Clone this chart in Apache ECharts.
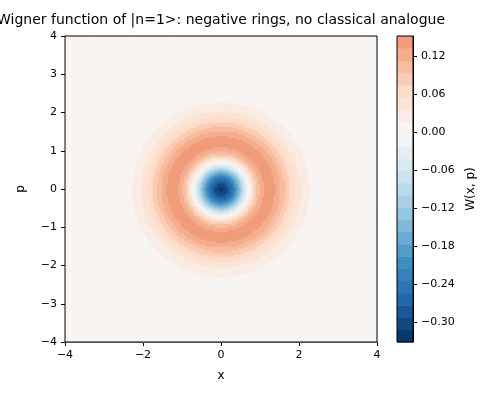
<!DOCTYPE html>
<html><head><meta charset="utf-8">
<script src="https://cdn.jsdelivr.net/npm/echarts@6/dist/echarts.min.js"></script>
<style>html,body{margin:0;padding:0;background:#fff}#c{width:500px;height:400px}</style>
</head><body><div id="c"></div>
<script>
// Radial profile W(r), r step 0.125
const radii = [0,0.125,0.25,0.375,0.5,0.625,0.75,0.875,1.0,1.125,1.25,1.375,1.5,1.625,1.75,1.875,2.0,2.125,2.25,2.375,2.5,2.625,2.75,2.875,3.0,3.125,3.25,3.5];
const profile = [-0.318,-0.304,-0.262,-0.199,-0.124,-0.047,0.023,0.079,0.117,0.138,0.142,0.134,0.117,0.097,0.076,0.057,0.041,0.028,0.018,0.012,0.007,0.004,0.002,0.001,0.0007,0.0004,0.0002,0.0];
const axisTicks = [-4,-2,0,2,4];
const cbarTicks = [-0.30,-0.24,-0.18,-0.12,-0.06,0.00,0.06,0.12];
const levelMin = -0.332, levelMax = 0.152, nBands = 25;
const cmap = ['#053061','#2166ac','#4393c3','#92c5de','#d1e5f0','#f7f7f7','#fddbc7','#f4a582','#d6604d','#b2182b','#67001f'];
function hex(c){return [1,3,5].map(i=>parseInt(c.substr(i,2),16));}
function colorAt(v){
  let t = 0.5 + 0.5*v/0.332; t=Math.max(0,Math.min(1,t));
  const s=t*10, i=Math.min(9,Math.floor(s)), f=s-i;
  const a=hex(cmap[i]), b=hex(cmap[i+1]);
  return 'rgb('+a.map((x,k)=>Math.round(x+(b[k]-x)*f)).join(',')+')';
}
const step=(levelMax-levelMin)/nBands;
const levels=[]; for(let i=0;i<=nBands;i++) levels.push(levelMin+i*step);
function bandColor(v){
  let i=Math.floor((v-levelMin)/step); i=Math.max(0,Math.min(nBands-1,i));
  return colorAt(levels[i]+step/2);
}
// colour lookup between the sampled radii (used only to shade cells)
function W(r){
  if(r>=radii[radii.length-1]) return 0;
  let i=0; while(radii[i+1]<r) i++;
  const f=(r-radii[i])/(radii[i+1]-radii[i]);
  return profile[i]+(profile[i+1]-profile[i])*f;
}
const N=160, d=8/N, cells=[];
for(let i=0;i<N;i++)for(let j=0;j<N;j++){
  const x=-4+(i+0.5)*d, y=-4+(j+0.5)*d;
  cells.push([x,y,W(Math.hypot(x,y))]);
}
const bands=[]; for(let i=0;i<nBands;i++) bands.push([0,levels[i],levels[i+1]]);
const fmt=v=>String(v).replace('-','\u2212');
const chart=echarts.init(document.getElementById('c'),null,{renderer:'canvas'});
const F='DejaVu Sans';
const axStyle={axisLine:{show:true,onZero:false,lineStyle:{color:'#000'}},axisTick:{show:true,length:4,lineStyle:{color:'#000'}},splitLine:{show:false},axisLabel:{color:'#000',fontSize:11,fontFamily:F}};
chart.setOption({
  animation:false,
  graphic:[{type:'text',x:221,y:13,style:{text:'Wigner function of |n=1>: negative rings, no classical analogue',fontSize:14,fontFamily:F,fill:'#000',textAlign:'center'}}],
  grid:[{left:65,top:36,width:312,height:306},{left:397,top:36,width:16,height:306}],
  xAxis:[Object.assign({type:'value',gridIndex:0,min:-4,max:4,interval:1,name:'x',nameLocation:'middle',nameGap:28,nameTextStyle:{color:'#000',fontSize:12,fontFamily:F}},axStyle,{axisLabel:Object.assign({},axStyle.axisLabel,{customValues:axisTicks,formatter:fmt}),axisTick:Object.assign({},axStyle.axisTick,{customValues:axisTicks})}),
         {type:'value',gridIndex:1,min:0,max:1,show:false}],
  yAxis:[Object.assign({type:'value',gridIndex:0,min:-4,max:4,interval:1,name:'p',nameLocation:'middle',nameGap:38,nameTextStyle:{color:'#000',fontSize:12,fontFamily:F}},axStyle,{axisLabel:Object.assign({},axStyle.axisLabel,{formatter:fmt})}),
         Object.assign({type:'value',gridIndex:1,position:'right',min:levelMin,max:levelMax,name:'W(x, p)',nameLocation:'middle',nameRotate:90,nameGap:52,nameTextStyle:{color:'#000',fontSize:12,fontFamily:F}},axStyle,{
           axisLabel:Object.assign({},axStyle.axisLabel,{customValues:cbarTicks,formatter:v=>fmt(v.toFixed(2))}),axisTick:Object.assign({},axStyle.axisTick,{customValues:cbarTicks})})],
  series:[
    {type:'custom',xAxisIndex:0,yAxisIndex:0,data:cells,silent:true,clip:true,
     renderItem:(p,api)=>{const x=api.value(0),y=api.value(1);const a=api.coord([x-d/2,y+d/2]),b=api.coord([x+d/2,y-d/2]);
       return {type:'rect',shape:{x:a[0],y:a[1],width:b[0]-a[0]+0.6,height:b[1]-a[1]+0.6},style:{fill:bandColor(api.value(2))}};}},
    {type:'custom',xAxisIndex:1,yAxisIndex:1,data:bands,silent:true,
     renderItem:(p,api)=>{const lo=api.value(1),hi=api.value(2);const a=api.coord([0,hi]),b=api.coord([1,lo]);
       return {type:'rect',shape:{x:a[0],y:a[1],width:b[0]-a[0],height:b[1]-a[1]+0.5},style:{fill:colorAt((lo+hi)/2)}};}}
  ]
});
const zr=chart.getZr();
[[65,36,312,306],[397,36,16,306]].forEach(r=>zr.add(new echarts.graphic.Rect({shape:{x:r[0],y:r[1],width:r[2],height:r[3]},style:{fill:'none',stroke:'#000',lineWidth:1},z:100})));
</script></body></html>
